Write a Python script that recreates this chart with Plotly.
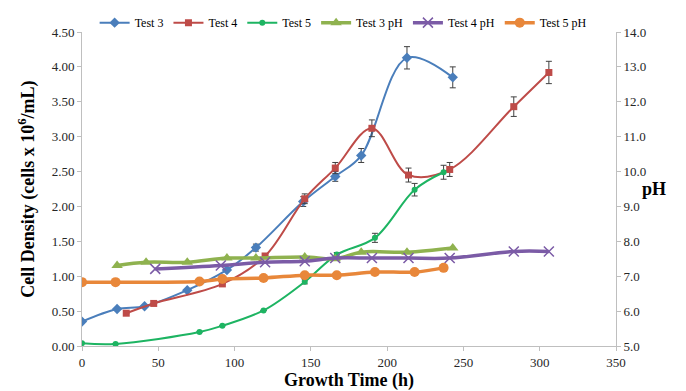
import plotly.graph_objects as go

# ---- data ----
t3_x = [0, 23, 41, 69, 95, 114, 145, 166, 183, 213, 243]
t3_y = [0.35, 0.53, 0.57, 0.80, 1.09, 1.41, 2.07, 2.43, 2.73, 4.13, 3.85]
t3_e = [None, None, None, None, None, 0.05, 0.07, 0.07, 0.10, 0.16, 0.15]

t4_x = [29, 47, 92, 120, 146, 166, 190, 214, 241, 283, 306]
t4_y = [0.47, 0.61, 0.89, 1.29, 2.11, 2.55, 3.12, 2.45, 2.53, 3.43, 3.92]
t4_e = [None, None, None, None, 0.07, 0.08, 0.12, 0.10, 0.10, 0.14, 0.16]

t5_x = [0, 22, 77, 92, 119, 146, 167, 192, 218, 237]
t5_y = [0.04, 0.03, 0.20, 0.29, 0.51, 0.92, 1.31, 1.55, 2.24, 2.49]
t5_e = [None, None, None, None, None, 0.03, 0.03, 0.065, 0.09, 0.10]

p3_x = [23, 42, 69, 95, 114, 146, 166, 183, 213, 243]
p3_y = [7.31, 7.40, 7.40, 7.52, 7.52, 7.55, 7.50, 7.69, 7.69, 7.81]

p4_x = [48, 91, 120, 146, 166, 190, 214, 241, 283, 306]
p4_y = [7.21, 7.31, 7.40, 7.43, 7.52, 7.52, 7.52, 7.52, 7.71, 7.71]

p5_x = [0, 22, 77, 92, 119, 146, 167, 192, 218, 237]
p5_y = [6.83, 6.83, 6.85, 6.92, 6.95, 7.03, 7.03, 7.12, 7.12, 7.24]

x_ticks = [0, 50, 100, 150, 200, 250, 300, 350]

SERIF = "Liberation Serif"
ERR_COL = "#404040"

fig = go.Figure()

def density(name, x, y, e, color, symbol, size):
    fig.add_trace(go.Scatter(
        x=x, y=y, name=name, mode="lines+markers",
        line=dict(color=color, width=2, shape="spline", smoothing=1.0),
        marker=dict(color=color, symbol=symbol, size=size),
        error_y=dict(type="data", array=e, visible=True, color=ERR_COL,
                     thickness=1, width=3),
        yaxis="y"))

def ph(name, x, y, color, symbol, size, lw=3.5):
    mk = dict(color=color, symbol=symbol, size=size)
    if symbol.startswith("x-thin"):
        mk["line"] = dict(color=color, width=1.5)
    fig.add_trace(go.Scatter(
        x=x, y=y, name=name, mode="lines+markers",
        line=dict(color=color, width=lw, shape="spline", smoothing=1.0),
        marker=mk, yaxis="y2"))

density("Test 3", t3_x, t3_y, t3_e, "#4A7EBB", "diamond", 8)
density("Test 4", t4_x, t4_y, t4_e, "#BE4B48", "square", 7)
density("Test 5", t5_x, t5_y, t5_e, "#1DB462", "circle", 6)
ph("Test 3 pH", p3_x, p3_y, "#8FB24F", "triangle-up", 10)
ph("Test 4 pH", p4_x, p4_y, "#7B5BA6", "x-thin-open", 10)
ph("Test 5 pH", p5_x, p5_y, "#E8873A", "circle", 10)

axis_common = dict(
    showline=True, linecolor="#BFBFBF", linewidth=1,
    ticks="outside", tickcolor="#BFBFBF", ticklen=4,
    showgrid=False, zeroline=False,
    tickfont=dict(family=SERIF, size=13, color="#262626"),
)

fig.update_layout(
    width=686, height=391,
    margin=dict(l=74, r=78, t=24, b=53, autoexpand=False),
    paper_bgcolor="white", plot_bgcolor="white",
    font=dict(family=SERIF, color="#000"),
    xaxis=dict(range=[0, 350], tickvals=x_ticks, **axis_common,
               title=dict(text="<b>Growth Time (h)</b>",
                          font=dict(family=SERIF, size=18, color="#000"),
                          standoff=2)),
    yaxis=dict(range=[0, 4.5], dtick=0.5, tickformat=".2f", **axis_common,
               title=dict(text="<b>Cell Density (cells x 10<sup>6</sup>/mL)</b>",
                          font=dict(family=SERIF, size=18, color="#000"),
                          standoff=12)),
    yaxis2=dict(range=[5, 14], dtick=1, tickformat=".1f", overlaying="y",
                side="right", **axis_common),
    legend=dict(orientation="h", x=0.489, xanchor="center", y=1.076,
                yanchor="top", font=dict(family=SERIF, size=12, color="#000"),
                bgcolor="rgba(0,0,0,0)", itemwidth=30, tracegroupgap=0),
    showlegend=True,
)

fig.add_annotation(text="<b>pH</b>", xref="paper", yref="paper",
                   x=(660 - 74) / 534, y=0.5, showarrow=False,
                   font=dict(family=SERIF, size=18, color="#000"))

fig.write_html("out.html")
